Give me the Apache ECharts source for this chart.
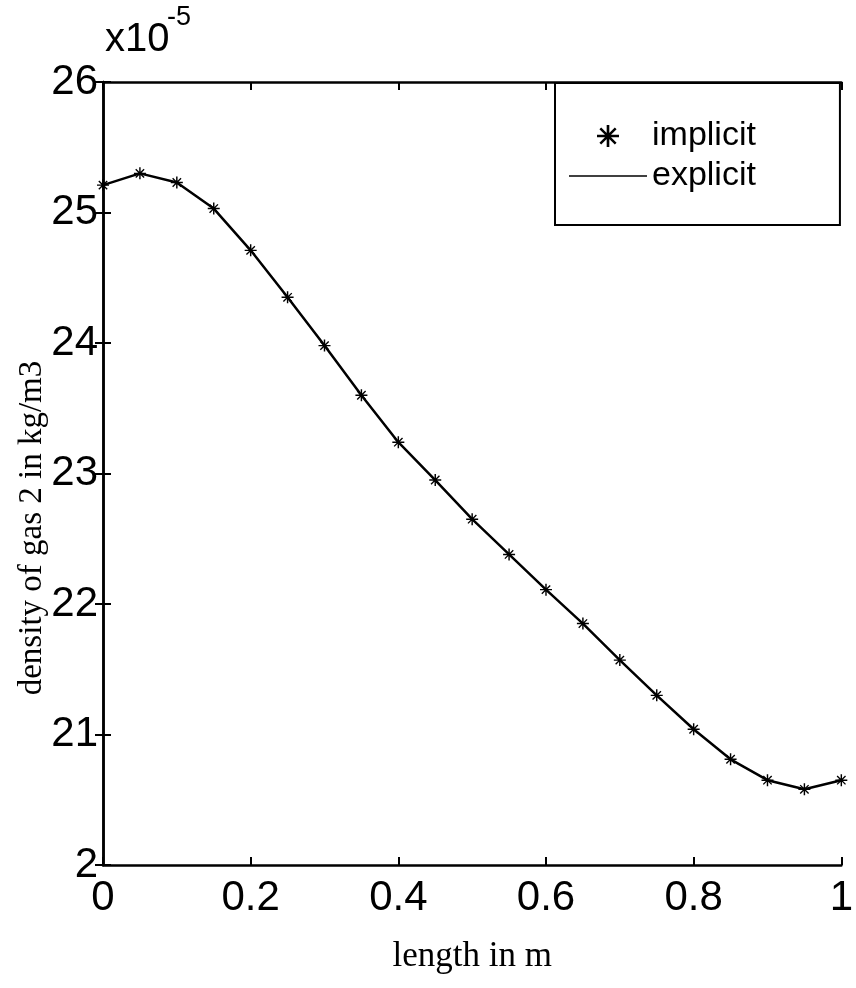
<!DOCTYPE html>
<html>
<head>
	<title>density of gas 2</title>
	<meta charset="utf-8">
	<script src="https://cdn.jsdelivr.net/npm/echarts@6/dist/echarts.min.js"></script>
	<style>
		html, body { margin: 0; padding: 0; background: #fff; }
	</style>
</head>
<body>
	<div id="density-line" style="width: 856px;height: 988px;"></div>
<script>
	// length in m
	var lengthM = [0, 0.05, 0.1, 0.15, 0.2, 0.25, 0.3, 0.35, 0.4, 0.45, 0.5,
		0.55, 0.6, 0.65, 0.7, 0.75, 0.8, 0.85, 0.9, 0.95, 1];
	// density, x 10^-5 kg/m3
	var implicitVals = [25.21, 25.30, 25.23, 25.03, 24.71, 24.35, 23.98, 23.60, 23.24, 22.95, 22.65,
		22.38, 22.11, 21.85, 21.57, 21.30, 21.04, 20.81, 20.65, 20.58, 20.65];
	var explicitVals = [25.21, 25.30, 25.23, 25.03, 24.71, 24.35, 23.98, 23.60, 23.24, 22.95, 22.65,
		22.38, 22.11, 21.85, 21.57, 21.30, 21.04, 20.81, 20.65, 20.58, 20.65];
	var yTickLabels = { 20: '2', 21: '21', 22: '22', 23: '23', 24: '24', 25: '25', 26: '26' };

	function pairs(xs, ys) {
		return xs.map(function (x, i) { return [x, ys[i]]; });
	}

	// asterisk marker (MATLAB '*')
	var star = 'path://M0 8.8L20 8.8L20 11.2L0 11.2Z M8.8 0L11.2 0L11.2 20L8.8 20Z' +
		' M2.2 3.8L3.8 2.2L17.8 16.2L16.2 17.8Z M16.2 2.2L17.8 3.8L3.8 17.8L2.2 16.2Z';
	// thin bar used as the legend line sample
	var thinLine = 'path://M0 0L78 0L78 1.3L0 1.3Z';

	var tickFont = 'Liberation Sans';
	var axisLine = { show: true, lineStyle: { color: '#000', width: 2.5 } };
	var axisTick = { show: true, inside: true, length: 8, lineStyle: { color: '#000', width: 2 } };

	var option = {
		animation: false,
		backgroundColor: '#fff',
		grid: { left: 103, right: 9, top: 82, bottom: 123, containLabel: false },
		xAxis: [{
			type: 'value', min: 0, max: 1, interval: 0.2,
			name: 'length in m', nameLocation: 'middle', nameGap: 74,
			nameTextStyle: { fontFamily: 'Liberation Serif', fontSize: 35, color: '#000' },
			axisLine: axisLine, axisTick: axisTick, splitLine: { show: false },
			axisLabel: { color: '#000', fontFamily: tickFont, fontSize: 42, margin: 12 }
		}, {
			type: 'value', min: 0, max: 1, interval: 0.2, position: 'top',
			axisLine: axisLine, axisTick: axisTick, splitLine: { show: false },
			axisLabel: { show: false }
		}],
		yAxis: [{
			type: 'value', min: 20, max: 26, interval: 1,
			axisLine: axisLine, axisTick: axisTick, splitLine: { show: false },
			axisLabel: {
				color: '#000', fontFamily: tickFont, fontSize: 42, margin: 5,
				formatter: function (v) { return yTickLabels[v]; }
			}
		}, {
			type: 'value', min: 20, max: 26, interval: 1, position: 'right',
			axisLine: axisLine, axisTick: axisTick, splitLine: { show: false },
			axisLabel: { show: false }
		}],
		legend: {
			orient: 'vertical', left: 555, top: 83,
			padding: [36, 84, 32, 14], itemGap: 6,
			itemWidth: 78, itemHeight: 22,
			backgroundColor: '#fff', borderColor: '#000', borderWidth: 2, borderRadius: 0,
			textStyle: { color: '#000', fontFamily: tickFont, fontSize: 34 },
			data: [
				{ name: 'implicit' },
				{ name: 'explicit', icon: thinLine, itemStyle: { color: '#000' } }
			]
		},
		graphic: [{
			type: 'text', left: 105, top: 20,
			style: { text: 'x10', font: '40px "Liberation Sans"', fill: '#000' }
		}, {
			type: 'text', left: 167, top: 4,
			style: { text: '-5', font: '27px "Liberation Sans"', fill: '#000' }
		}, {
			type: 'text', x: 32, y: 528, rotation: Math.PI / 2,
			style: {
				text: 'density of gas 2 in kg/m3', font: '33px "Liberation Serif"', fill: '#000',
				align: 'center', verticalAlign: 'middle'
			}
		}],
		series: [{
			name: 'explicit', type: 'line', data: pairs(lengthM, explicitVals),
			showSymbol: false, symbol: 'none',
			lineStyle: { color: '#000', width: 2.5 }, itemStyle: { color: '#000' }, z: 2
		}, {
			name: 'implicit', type: 'scatter', data: pairs(lengthM, implicitVals),
			symbol: star, symbolSize: 12,
			itemStyle: { color: '#000', opacity: 1 }, z: 3
		}]
	};
	var chart = echarts.init(document.getElementById('density-line'));
	chart.setOption(option);
</script>
</body>
</html>
